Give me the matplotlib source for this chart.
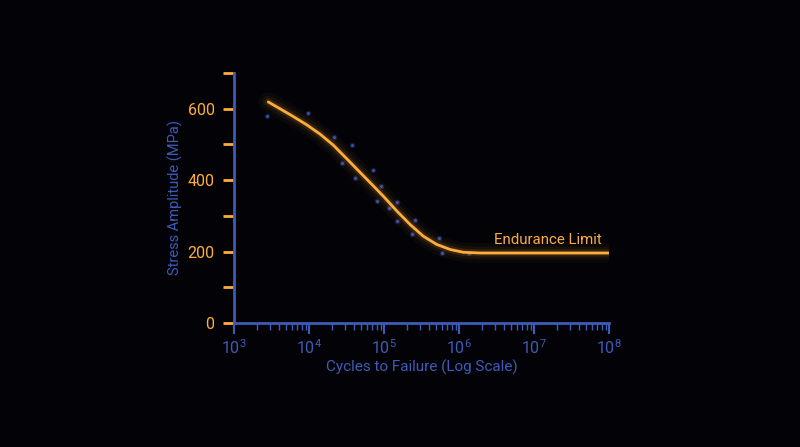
import numpy as np
import matplotlib.pyplot as plt
from matplotlib.ticker import FixedLocator, LogLocator, NullFormatter

plt.rcParams['font.family'] = ['Roboto', 'DejaVu Sans']
plt.rcParams['mathtext.fontset'] = 'custom'
plt.rcParams['mathtext.rm'] = 'Roboto'

# S-N curve (log10 of cycles, MPa)
curve_logn = [3.457, 3.613, 3.791, 3.969, 4.147, 4.324, 4.503, 4.68, 4.857,
              4.991, 5.169, 5.347, 5.524, 5.703, 5.88, 6.057, 6.28, 8.0]
curve_s = [619, 600, 578, 555, 529, 498, 460, 422, 384,
           355, 314, 276, 243, 220, 206, 198, 196, 196]

# test specimens
pts_logn = [3.44, 3.99, 4.33, 4.57, 4.44, 4.61, 4.85, 4.96, 4.91, 5.17,
            5.07, 5.17, 5.41, 5.37, 5.73, 5.77, 6.13]
pts_s = [580, 589, 521, 499, 448, 406, 428, 383, 341, 338,
         321, 285, 287, 248, 237, 197, 197]

yticks = [0, 100, 200, 300, 400, 500, 600, 700]
ylabels = ['0', '', '200', '', '400', '', '600', '']

bg = '#030307'
orange = '#ffad3a'
blue = '#3d5bb8'

fig = plt.figure(figsize=(8, 4.47), dpi=100, facecolor=bg)
ax = fig.add_axes([0.2925, 0.2774, 0.46875, 0.5593], facecolor=bg)

N = np.power(10.0, curve_logn)
Np = np.power(10.0, pts_logn)

# glow around the curve
for lw, a in [(14, 0.03), (9, 0.06), (5, 0.12)]:
    ax.plot(N, curve_s, color=orange, lw=lw, alpha=a,
            solid_capstyle='round', solid_joinstyle='round', zorder=2)
ax.plot(N, curve_s, color=orange, lw=2, solid_capstyle='round',
        solid_joinstyle='round', zorder=3)

ax.scatter(Np, pts_s, s=16, color='#3a4aa8', alpha=0.3, lw=0, zorder=1)
ax.scatter(Np, pts_s, s=5, color='#4a5cc8', alpha=0.75, lw=0, zorder=1)

ax.text(10 ** 6.467, 212, 'Endurance Limit', color=orange, fontsize=10.8,
        ha='left', va='bottom')

ax.set_xscale('log')
ax.set_xlim(1e3, 1e8)
ax.set_ylim(0, 700)

ax.xaxis.set_major_locator(LogLocator(base=10, numticks=10))
ax.xaxis.set_minor_locator(LogLocator(base=10, subs=np.arange(2, 10), numticks=10))
ax.xaxis.set_minor_formatter(NullFormatter())
ax.yaxis.set_major_locator(FixedLocator(yticks))
ax.set_yticklabels(ylabels)

for side in ['top', 'right']:
    ax.spines[side].set_visible(False)
for side in ['left', 'bottom']:
    ax.spines[side].set_color(blue)
    ax.spines[side].set_linewidth(2)

ax.tick_params(axis='y', colors=orange, labelcolor=orange, length=8,
               width=2, pad=6, labelsize=11.5)
ax.tick_params(axis='x', which='major', colors=blue, labelcolor=blue,
               length=8, width=1.5, pad=3, labelsize=11.5)
ax.tick_params(axis='x', which='minor', colors=blue, length=5, width=1)

ax.set_xlabel('Cycles to Failure (Log Scale)', color=blue, fontsize=11,
              labelpad=2)
ax.set_ylabel('Stress Amplitude (MPa)', color=blue, fontsize=10.5,
              labelpad=3)

fig.savefig('out.png', dpi=100, facecolor=bg)
